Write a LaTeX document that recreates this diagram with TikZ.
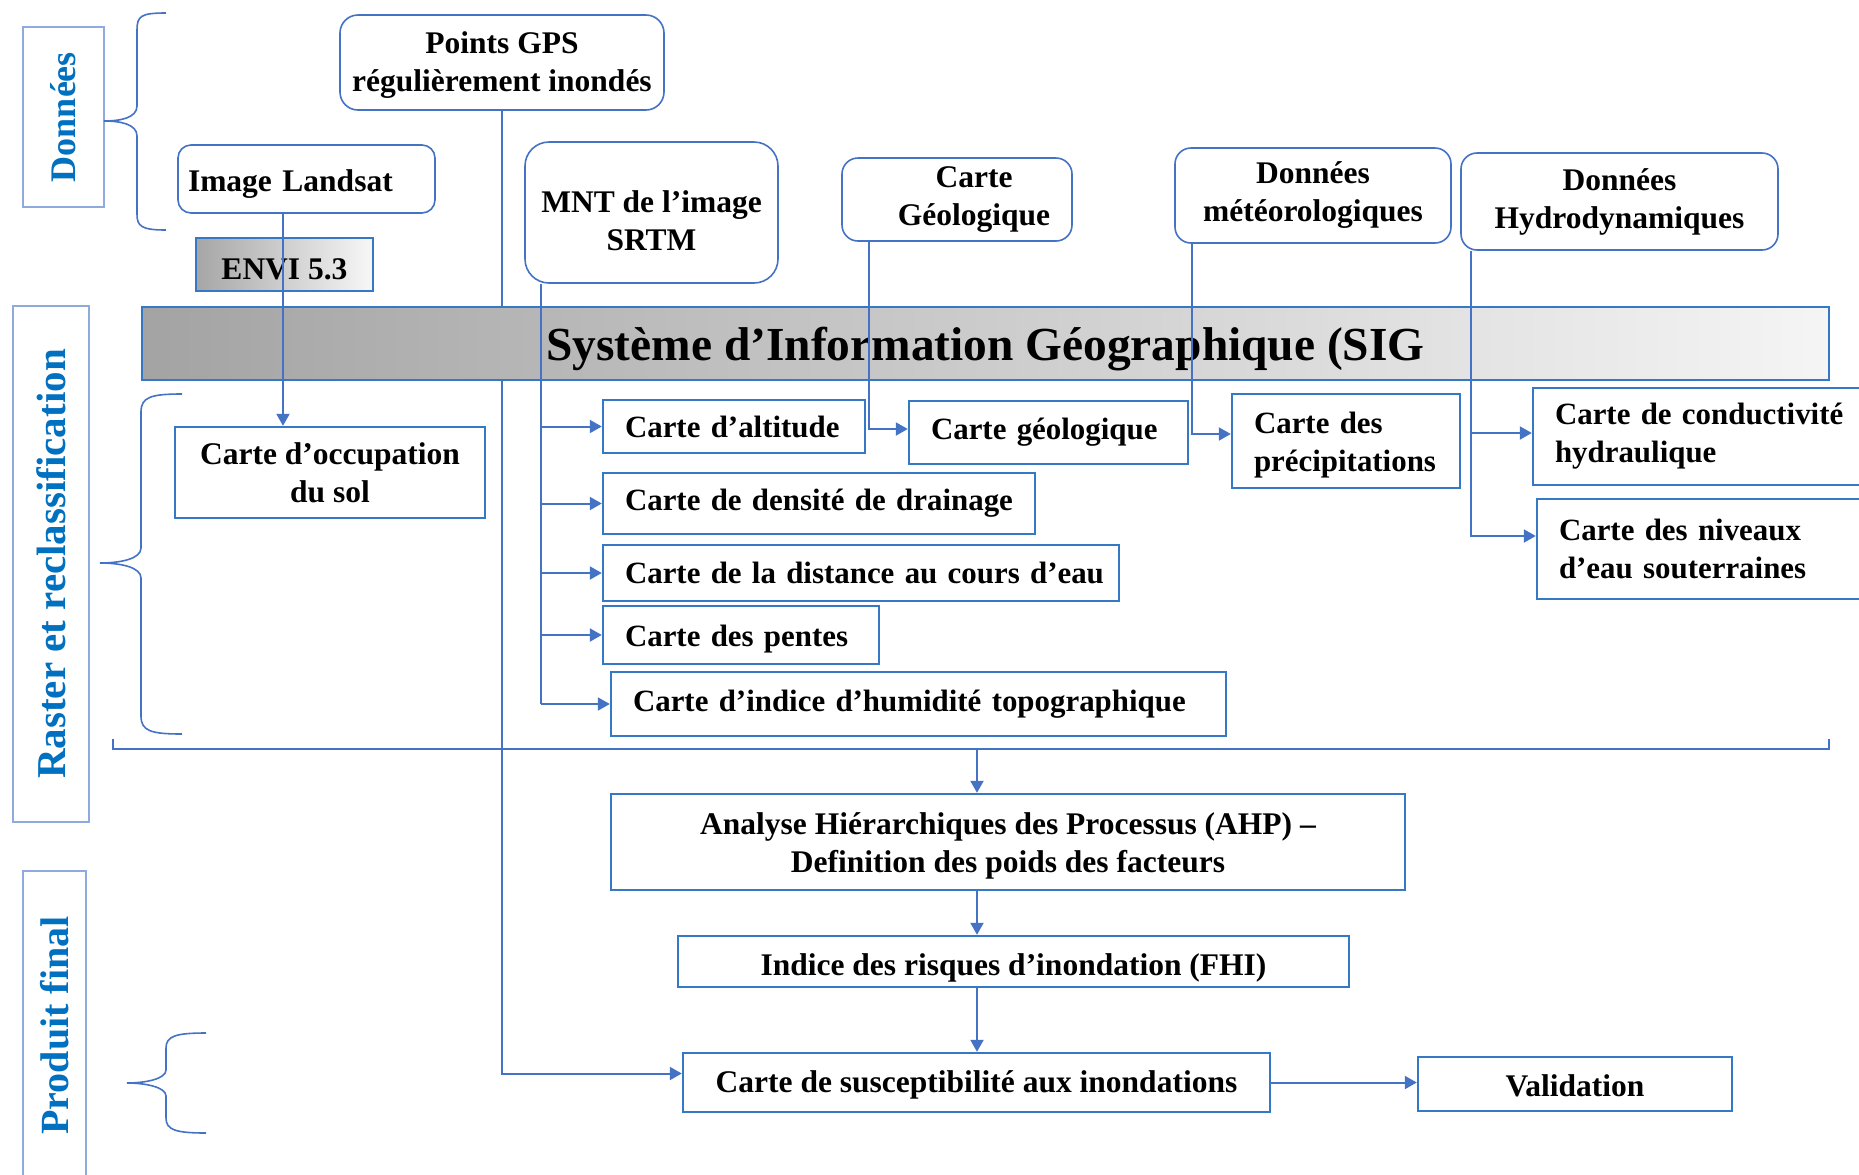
\documentclass[tikz,border=0pt]{standalone}
\usepackage{fontspec}
\setmainfont{Liberation Serif}
\usetikzlibrary{arrows.meta,calc}
\definecolor{lineblue}{RGB}{68,114,196}
\definecolor{boxblue}{RGB}{52,120,198}
\definecolor{lblblue}{RGB}{0,112,192}
\definecolor{lblframe}{RGB}{143,170,220}
\newcommand\placebox[7]{%
  \pgfmathsetmacro\pbcx{(#3+#5)/2}%
  \pgfmathsetmacro\pbcy{(#4+#6)/2}%
  \pgfmathsetmacro\pbw{(#5-#3)/2}%
  \pgfmathsetmacro\pbh{(#6-#4)/2}%
  \node[#2, minimum width=\pbw pt, minimum height=\pbh pt] (#1) at (\pbcx,\pbcy) {#7};}
\newcommand\placeboxL[7]{%
  \pgfmathsetmacro\pbcx{(#3+#5)/2}%
  \pgfmathsetmacro\pbcy{(#4+#6)/2}%
  \pgfmathsetmacro\pbw{(#5-#3)/2}%
  \pgfmathsetmacro\pbh{(#6-#4)/2}%
  \node[#2, align=left, inner xsep=0pt, text width=\pbw pt, minimum height=\pbh pt] (#1) at (\pbcx,\pbcy) {#7};}
\newcommand\pad{\hspace*{11pt}}
% lower the text of a node by #1 (adds height on top of the first line)
\newcommand\lowr[2]{\raisebox{0pt}[\dimexpr\height+#1*2\relax][\depth]{#2}}
\begin{document}
\begin{tikzpicture}[x=0.5pt,y=-0.5pt,
  txt/.style={font=\bfseries\fontsize{15.75}{19}\selectfont, text=black},
  rbox/.style={txt, draw=lineblue, line width=0.8pt, fill=white, rounded corners=#1, align=center, inner xsep=0pt, inner ysep=1pt},
  rbox/.default=8pt,
  sbox/.style={txt, draw=boxblue, line width=1.2pt, fill=white, align=center, inner xsep=0pt, inner ysep=1pt},
  lbox/.style={sbox, font=\bfseries\fontsize{15.45}{19}\selectfont},
  envibox/.style={txt, draw=boxblue, line width=1pt, left color=gray!70, right color=gray!6, inner sep=0pt},
  sigbar/.style={draw=boxblue, line width=1.2pt, left color=gray!72, right color=gray!8, inner sep=0pt,
    font=\bfseries\fontsize{23.7}{28}\selectfont, text=black},
  lbl/.style={draw=lblframe, line width=0.9pt, fill=white, text=lblblue, rotate=90, inner sep=0pt},
  conn/.style={draw=lineblue, line width=1pt},
  arr/.style={conn, -{Triangle[length=6pt,width=6.5pt]}},
  bracestyle/.style={draw=lineblue, line width=0.8pt},
]
\useasboundingbox (0,0) rectangle (1859,1174);

% side labels
\node[lbl, minimum width=90pt, minimum height=40.5pt, font=\bfseries\fontsize{18}{20}\selectfont] (ldon) at (63.5,117) {Données};
\node[lbl, minimum width=258pt, minimum height=38pt, font=\bfseries\fontsize{20.5}{22}\selectfont] (lras) at (51,564) {Raster et reclassification};
\node[lbl, minimum width=154.5pt, minimum height=31.5pt, font=\bfseries\fontsize{20}{22}\selectfont] (lprod) at (54.5,1025.5) {Produit final};

% braces
\draw[bracestyle] (166,13) .. controls (141,13) and (137,16) .. (137,30) -- (137,106)
  .. controls (137,118) and (120,121) .. (104,121) .. controls (120,121) and (137,124) .. (137,136)
  -- (137,214) .. controls (137,226) and (141,230) .. (166,230);
\draw[bracestyle] (182,394) .. controls (151,394) and (141,397) .. (141,412) -- (141,548)
  .. controls (141,559) and (120,563) .. (100,563) .. controls (120,563) and (141,567) .. (141,578)
  -- (141,716) .. controls (141,731) and (151,734) .. (182,734);
\draw[bracestyle] (206,1033) .. controls (176,1033) and (166,1036) .. (166,1048) -- (166,1070)
  .. controls (166,1079) and (145,1083) .. (127,1083) .. controls (145,1083) and (166,1087) .. (166,1096)
  -- (166,1118) .. controls (166,1130) and (176,1133) .. (206,1133);
\draw[bracestyle] (113,739) -- (113,749) -- (1829,749) -- (1829,739);
\coordinate (brk) at (977,749);

% data boxes
\placebox{gps}{rbox=9pt}{340}{15}{664}{110}{\lowr{1.2pt}{Points GPS}\\régulièrement inondés}
\placeboxL{landsat}{rbox=6.5pt}{178}{145}{435}{213}{\lowr{2.4pt}{\hspace*{5pt}Image Landsat}}
\placebox{envi}{envibox}{196}{238}{373}{291}{\lowr{2.4pt}{ENVI 5.3}}
\placebox{mnt}{rbox=12pt}{525}{142}{778}{283}{\lowr{4pt}{MNT de l’image}\\SRTM}
\placebox{geotop}{rbox=8pt}{842}{158}{1072}{241}{\hspace*{17pt}Carte\\\hspace*{17pt}Géologique}
\placebox{meteo}{rbox=8pt}{1175}{148}{1451}{243}{Données\\météorologiques}
\placebox{hydro}{rbox=8pt}{1461}{153}{1778}{250}{Données\\Hydrodynamiques}

% SIG bar
\placebox{sig}{sigbar}{142}{307}{1829}{380}{\lowr{3pt}{Système d’Information Géographique (SIG}}

% raster maps
\placebox{occ}{sbox}{175}{427}{485}{518}{Carte d’occupation\\du sol}
\placeboxL{alt}{lbox}{603}{400}{865}{453}{\pad Carte d’altitude}
\placeboxL{geol}{lbox}{909}{401}{1188}{464}{\pad Carte géologique}
\placeboxL{precip}{lbox}{1232}{394}{1460}{488}{\lowr{1.8pt}{\pad Carte des}\\\pad précipitations}
\placeboxL{cond}{lbox}{1533}{388}{1880}{485}{\pad Carte de conductivité\\\pad hydraulique}
\placeboxL{dens}{lbox}{603}{473}{1035}{534}{\pad Carte de densité de drainage}
\placeboxL{dist}{lbox}{603}{545}{1119}{601}{\pad Carte de la distance au cours d’eau}
\placeboxL{niv}{lbox}{1537}{499}{1880}{599}{\pad Carte des niveaux\\\pad d’eau souterraines}
\placeboxL{pente}{lbox}{603}{606}{879}{664}{\lowr{1.8pt}{\pad Carte des pentes}}
\placeboxL{twi}{lbox}{611}{672}{1226}{736}{\pad Carte d’indice d’humidité topographique}

% final product
\placebox{ahp}{sbox}{611}{794}{1405}{890}{\lowr{1.8pt}{Analyse Hiérarchiques des Processus (AHP) –}\\Definition des poids des facteurs}
\placebox{fhi}{sbox}{678}{936}{1349}{987}{\lowr{3pt}{Indice des risques d’inondation (FHI)}}
\placebox{susc}{sbox}{683}{1053}{1270}{1112}{\lowr{1pt}{Carte de susceptibilité aux inondations}}
\placebox{valid}{sbox}{1418}{1057}{1732}{1111}{\lowr{1pt}{Validation}}

% connectors
\draw[conn] (gps.south) -- (gps.south |- sig.north);
\draw[arr] (gps.south |- sig.south) |- ($(susc.west)+(0,-9)$);

\coordinate (lsfoot) at ([xshift=-11.75pt]landsat.south);
\draw[arr] (lsfoot) -- (lsfoot |- occ.north);

\coordinate (mntfoot) at ([xshift=-55.25pt]mnt.south);
\draw[conn] (mntfoot) -- (mntfoot |- twi.west);
\foreach \t in {alt,dens,dist,pente,twi} \draw[arr] (mntfoot |- \t.west) -- (\t.west);

\coordinate (geofoot) at ([xshift=-44pt]geotop.south);
\draw[arr] (geofoot) |- ([yshift=1.75pt]geol.west);
\coordinate (metfoot) at ([xshift=-60.5pt]meteo.south);
\draw[arr] (metfoot) |- ([yshift=3.5pt]precip.west);
\coordinate (hydfoot) at ([xshift=-74.25pt]hydro.south);
\draw[arr] (hydfoot) |- ([yshift=1.75pt]cond.west);
\draw[arr] (hydfoot) |- ([yshift=6.5pt]niv.west);

\draw[arr] (brk) -- (brk |- ahp.north);
\draw[arr] (brk |- ahp.south) -- (brk |- fhi.north);
\draw[arr] (brk |- fhi.south) -- (brk |- susc.north);
\draw[arr] (susc.east) -- (susc.east -| valid.west);
\end{tikzpicture}
\end{document}
